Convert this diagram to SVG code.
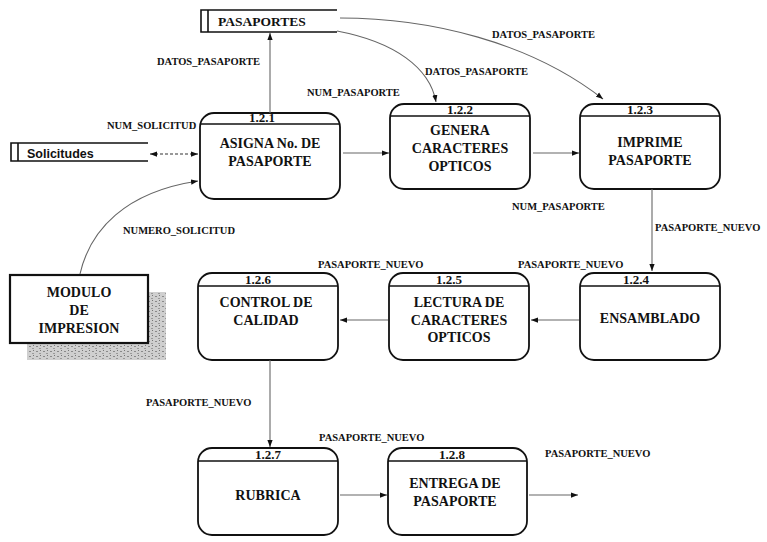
<svg xmlns="http://www.w3.org/2000/svg" width="767" height="542" viewBox="0 0 767 542">
  <style>
    .proc { fill: #fff; stroke: #111; stroke-width: 1.8; }
    .div { stroke: #111; stroke-width: 1.6; }
    .num { font-family: "Liberation Serif", "Times New Roman", serif; font-weight: bold; font-size: 13px; text-anchor: middle; fill: #111; }
    .name { font-family: "Liberation Serif", "Times New Roman", serif; font-weight: bold; font-size: 14px; text-anchor: middle; fill: #111; }
    .lbl { font-family: "Liberation Serif", "Times New Roman", serif; font-weight: bold; font-size: 10.5px; fill: #111; }
    .store { fill: none; stroke: #111; stroke-width: 1.6; }
    .flow { fill: none; stroke: #666; stroke-width: 1.1; marker-end: url(#ah); }
    .dash { stroke-dasharray: 3 2; stroke: #333; }
  </style>
  <defs>
    <marker id="ah" viewBox="0 0 8 6" refX="8" refY="3" markerWidth="7" markerHeight="6" orient="auto-start-reverse" markerUnits="userSpaceOnUse">
      <path d="M0,0 L8,3 L0,6 z" fill="#111"/>
    </marker>
    <pattern id="grain" width="7" height="5" patternUnits="userSpaceOnUse">
      <rect width="7" height="5" fill="#cfcfcf"/>
      <rect x="1" y="1" width="2" height="1" fill="#8a8a8a"/>
      <rect x="4" y="3" width="2" height="1" fill="#9a9a9a"/>
      <rect x="5" y="0" width="1" height="1" fill="#777"/>
    </pattern>
  </defs>

  <rect width="767" height="542" fill="#fff"/>

  <!-- data stores -->
  <g id="store-pasaportes">
    <path class="store" d="M337,10 H201 V32 H337 M208,10 V32"/>
    <text x="218" y="26" font-family="Liberation Serif, serif" font-weight="bold" font-size="13.5" fill="#111">PASAPORTES</text>
  </g>
  <g id="store-solicitudes">
    <path class="store" d="M148,143 H11 V161 H148 M18,143 V161"/>
    <text x="27" y="158" font-family="Liberation Sans, Arial, sans-serif" font-weight="bold" font-size="12.5" fill="#111">Solicitudes</text>
  </g>

  <!-- external entity -->
  <g id="modulo-impresion">
    <rect x="148" y="292" width="18" height="68" fill="url(#grain)"/>
    <rect x="27" y="343" width="139" height="17" fill="url(#grain)"/>
    <rect x="10" y="275" width="138" height="68" fill="#fff" stroke="#111" stroke-width="2.2"/>
    <text class="name" font-size="15" x="79" y="297">MODULO</text>
    <text class="name" font-size="15" x="79" y="315">DE</text>
    <text class="name" font-size="15" x="79" y="333">IMPRESION</text>
  </g>

  <!-- processes -->
  <g id="p121">
    <rect class="proc" x="200" y="113" width="140" height="86" rx="14"/>
    <line class="div" x1="200" y1="124" x2="340" y2="124"/>
    <text class="num" x="262" y="122">1.2.1</text>
    <text class="name" x="270" y="148">ASIGNA No. DE</text>
    <text class="name" x="270" y="166">PASAPORTE</text>
  </g>
  <g id="p122">
    <rect class="proc" x="390" y="104" width="140" height="85" rx="14"/>
    <line class="div" x1="390" y1="116" x2="530" y2="116"/>
    <text class="num" x="460" y="114">1.2.2</text>
    <text class="name" x="460" y="135">GENERA</text>
    <text class="name" x="460" y="153">CARACTERES</text>
    <text class="name" x="460" y="171">OPTICOS</text>
  </g>
  <g id="p123">
    <rect class="proc" x="580" y="104" width="140" height="85" rx="14"/>
    <line class="div" x1="580" y1="116" x2="720" y2="116"/>
    <text class="num" x="640" y="114">1.2.3</text>
    <text class="name" x="650" y="147">IMPRIME</text>
    <text class="name" x="650" y="165">PASAPORTE</text>
  </g>
  <g id="p124">
    <rect class="proc" x="580" y="273" width="140" height="87" rx="14"/>
    <line class="div" x1="580" y1="286" x2="720" y2="286"/>
    <text class="num" x="636" y="284">1.2.4</text>
    <text class="name" x="650" y="323">ENSAMBLADO</text>
  </g>
  <g id="p125">
    <rect class="proc" x="389" y="273" width="140" height="87" rx="14"/>
    <line class="div" x1="389" y1="286" x2="529" y2="286"/>
    <text class="num" x="449" y="284">1.2.5</text>
    <text class="name" x="459" y="307">LECTURA DE</text>
    <text class="name" x="459" y="325">CARACTERES</text>
    <text class="name" x="459" y="342">OPTICOS</text>
  </g>
  <g id="p126">
    <rect class="proc" x="198" y="273" width="140" height="87" rx="14"/>
    <line class="div" x1="198" y1="286" x2="338" y2="286"/>
    <text class="num" x="258" y="284">1.2.6</text>
    <text class="name" x="266" y="307">CONTROL DE</text>
    <text class="name" x="266" y="325">CALIDAD</text>
  </g>
  <g id="p127">
    <rect class="proc" x="198" y="448" width="140" height="87" rx="14"/>
    <line class="div" x1="198" y1="461" x2="338" y2="461"/>
    <text class="num" x="268" y="459">1.2.7</text>
    <text class="name" x="268" y="500">RUBRICA</text>
  </g>
  <g id="p128">
    <rect class="proc" x="388" y="448" width="139" height="87" rx="14"/>
    <line class="div" x1="388" y1="461" x2="527" y2="461"/>
    <text class="num" x="452" y="459">1.2.8</text>
    <text class="name" x="455" y="488">ENTREGA DE</text>
    <text class="name" x="455" y="506">PASAPORTE</text>
  </g>

  <!-- data flows -->
  <g id="flows">
    <path class="flow" d="M270,113 V33"/>
    <path class="flow" d="M337,31 C395,42 430,68 436,102"/>
    <path class="flow" d="M340,18 C430,18 530,42 603,99"/>
    <path class="flow dash" style="marker-start:url(#ah)" d="M150,154 H198"/>
    <path class="flow" d="M80,274 C90,230 125,192 198,181"/>
    <path class="flow" d="M343,153 H389"/>
    <path class="flow" d="M533,153 H579"/>
    <path class="flow" d="M652,189 V271"/>
    <path class="flow" d="M579,320 H531"/>
    <path class="flow" d="M388,320 H340"/>
    <path class="flow" d="M270,360 V447"/>
    <path class="flow" d="M340,495 H387"/>
    <path class="flow" d="M529,495 H578"/>
  </g>

  <!-- flow labels -->
  <g id="flow-labels">
    <text class="lbl" x="157" y="65">DATOS_PASAPORTE</text>
    <text class="lbl" x="307" y="96">NUM_PASAPORTE</text>
    <text class="lbl" x="425" y="75">DATOS_PASAPORTE</text>
    <text class="lbl" x="492" y="38">DATOS_PASAPORTE</text>
    <text class="lbl" x="107" y="129">NUM_SOLICITUD</text>
    <text class="lbl" x="123" y="234">NUMERO_SOLICITUD</text>
    <text class="lbl" x="512" y="210">NUM_PASAPORTE</text>
    <text class="lbl" x="655" y="231">PASAPORTE_NUEVO</text>
    <text class="lbl" x="518" y="268">PASAPORTE_NUEVO</text>
    <text class="lbl" x="318" y="268">PASAPORTE_NUEVO</text>
    <text class="lbl" x="146" y="406">PASAPORTE_NUEVO</text>
    <text class="lbl" x="319" y="441">PASAPORTE_NUEVO</text>
    <text class="lbl" x="545" y="457">PASAPORTE_NUEVO</text>
  </g>
</svg>
